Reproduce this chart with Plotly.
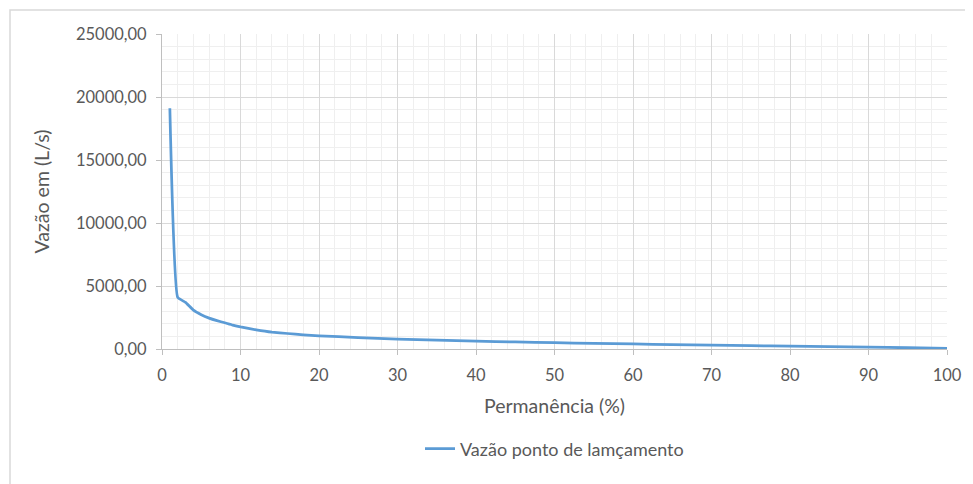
import plotly.graph_objects as go

permanencia = [1, 2, 3, 4, 5, 6, 7, 8, 9, 10, 12, 14, 16, 18, 20, 25, 30, 35, 40, 45,
               50, 55, 60, 65, 70, 75, 80, 85, 90, 95, 100]
vazao = [19100, 4100, 3700, 3080, 2720, 2450, 2250, 2080, 1900, 1750, 1520, 1340, 1230,
         1130, 1050, 900, 790, 700, 620, 560, 500, 450, 400, 350, 300, 260, 220, 180,
         140, 100, 50]
series_name = "Vazão ponto de lamçamento"
x_title = "Permanência (%)"
y_title = "Vazão em (L/s)"

FONT = "Lato, 'Open Sans', sans-serif"
GREY = "#595959"

# page body has an 8px margin, so the figure is offset by 8px
W, H = 965, 476
L, R, T, B = 154, 26, 26, 135
PW, PH = W - L - R, H - T - B

fig = go.Figure()
fig.add_trace(go.Scatter(
    x=permanencia, y=vazao, mode="lines", name=series_name,
    line=dict(color="#5B9BD5", width=2.75, shape="spline", smoothing=0.35),
))

fig.update_layout(
    width=W, height=H,
    margin=dict(l=L, r=R, t=T, b=B),
    paper_bgcolor="white", plot_bgcolor="white",
    separators=",.",
    font=dict(family=FONT, color=GREY, size=15),
    showlegend=True,
    legend=dict(orientation="h", x=0.5, xanchor="center", y=-0.317, yanchor="middle",
                font=dict(size=18, color=GREY)),
    xaxis=dict(
        range=[0, 100], dtick=10, tick0=0,
        showgrid=True, gridcolor="#d9d9d9", gridwidth=1,
        minor=dict(dtick=2, showgrid=True, gridcolor="#efefef", gridwidth=1),
        showline=True, linecolor="#bfbfbf", linewidth=1,
        ticks="outside", ticklen=5, tickcolor="#bfbfbf",
        zeroline=False, ticklabelstandoff=6,
        tickfont=dict(size=16.5, color=GREY),
        title=dict(text=x_title, font=dict(size=19.5, color=GREY), standoff=15),
    ),
    yaxis=dict(
        range=[0, 25000], dtick=5000, tick0=0,
        tickformat=".2f",
        showgrid=True, gridcolor="#d9d9d9", gridwidth=1,
        minor=dict(dtick=1000, showgrid=True, gridcolor="#efefef", gridwidth=1),
        showline=True, linecolor="#bfbfbf", linewidth=1,
        ticks="outside", ticklen=5, tickcolor="#bfbfbf",
        zeroline=False, ticklabelstandoff=6,
        tickfont=dict(size=16.5, color=GREY),
        title=dict(text=y_title, font=dict(size=19.5, color=GREY), standoff=21),
    ),
    shapes=[dict(type="rect", xref="paper", yref="paper",
                 x0=(2 - L) / PW, x1=(958 - L) / PW,
                 y0=-0.46, y1=(PH + T - 2) / PH,
                 line=dict(color="#d9d9d9", width=1.5), fillcolor="rgba(0,0,0,0)",
                 layer="below")],
)

fig.write_html("out.html")
